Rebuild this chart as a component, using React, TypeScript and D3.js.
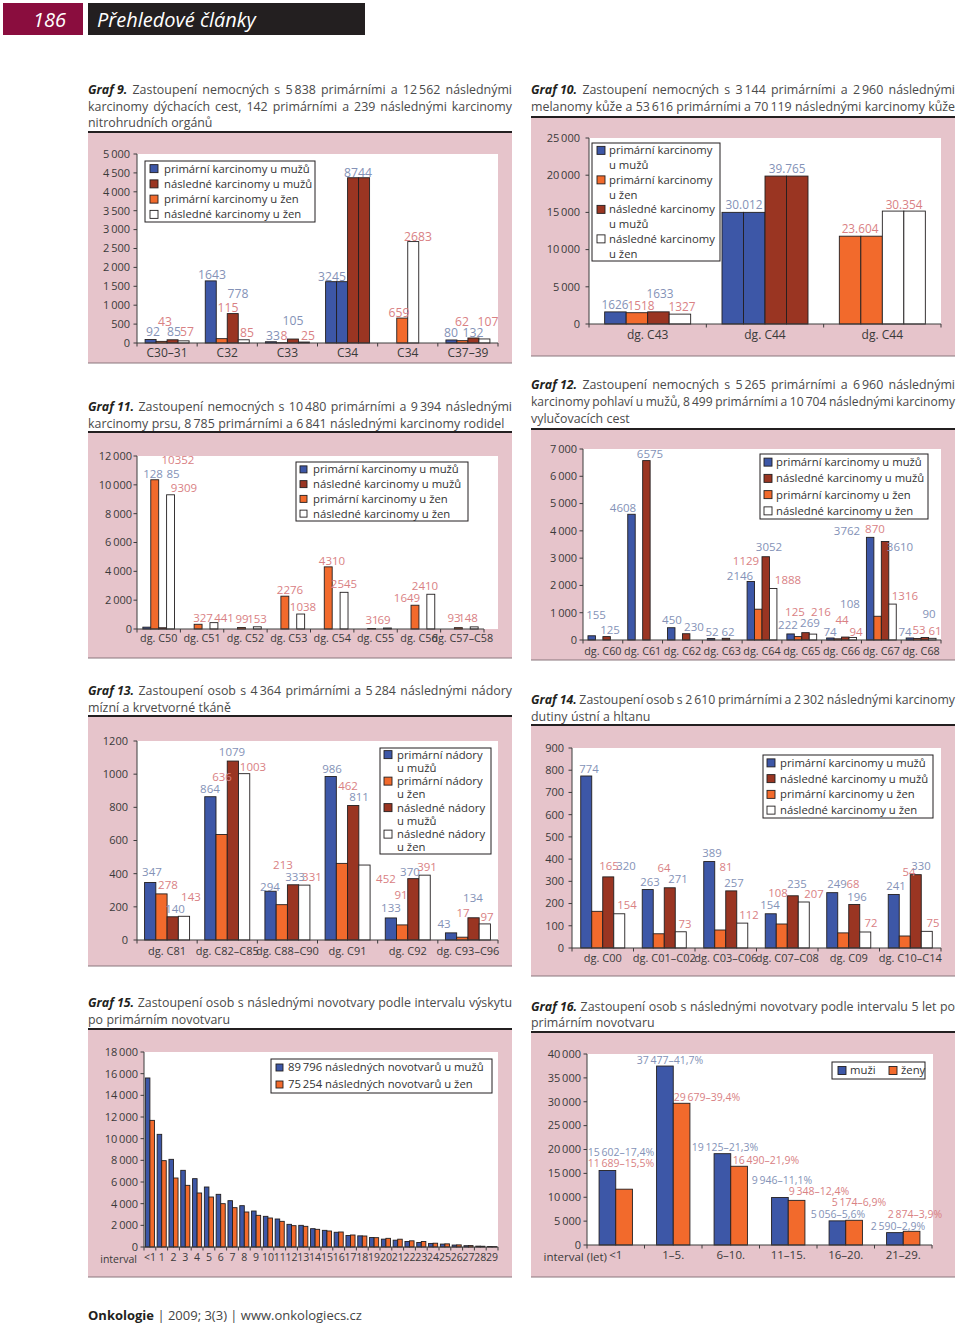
import React from "react";
import * as d3 from "d3";

const FONT = "'Open Sans', 'Noto Sans', sans-serif";
const FILL: Record<string, string> = { b: "#3d57a7", r: "#9a3522", o: "#f26a2c", w: "#ffffff" };
const LCOL: Record<string, string> = { s: "#8492b7", p: "#d98184" };
const PINK = "#e6c4cb";
const INK = "#231f20";
const TXT = "#3a3a3a";
const T = "\u2009";

type Lbl = [string, number, number, string];
type CapLine = { lead?: string; text: string; justify: boolean };

// ---------------- Graf 9 ----------------
const g9Caption: CapLine[] = [
  { lead: "Graf 9.", text: `Zastoupení nemocných s 5${T}838 primárními a 12${T}562 následnými`, justify: true },
  { text: "karcinomy dýchacích cest, 142 primárními a 239 následnými karcinomy", justify: true },
  { text: "nitrohrudních orgánů", justify: false },
];
const g9Cats = ["C30–31", "C32", "C33", "C34", "C34", "C37–39"];
const g9Values = [
  [92, 43, 85, 57],
  [1643, 115, 778, 85],
  [33, 8, 105, 25],
  [1622.5, 1622.5, 4372, 4372],
  [0, 659, 2683, 0],
  [80, 62, 132, 107],
];
const g9Fills = ["borw", "borw", "borw", "bbrr", "bow-", "borw"];
const g9Ticks = [0, 500, 1000, 1500, 2000, 2500, 3000, 3500, 4000, 4500, 5000];
const g9Labels: Lbl[] = [
  ["92", 0.266, 291, "s"], ["43", 0.465, 556, "p"], ["85", 0.615, 291, "s"], ["57", 0.831, 291, "p"],
  ["1643", 1.246, 1799, "s"], ["115", 1.512, 920, "p"], ["778", 1.679, 1300, "s"], ["85", 1.828, 265, "p"],
  ["33", 2.26, 200, "s"], ["8", 2.443, 200, "p"], ["105", 2.593, 580, "s"], ["25", 2.842, 200, "p"],
  ["3245", 3.241, 1746, "s"], ["8744", 3.673, 4498, "s"],
  ["659", 4.354, 794, "p"], ["2683", 4.67, 2805, "p"],
  ["80", 5.219, 265, "s"], ["62", 5.401, 556, "p"], ["132", 5.584, 265, "s"], ["107", 5.833, 556, "p"],
];
const g9Legend: [string, string][] = [
  ["b", "primární karcinomy u mužů"],
  ["r", "následné karcinomy u mužů"],
  ["o", "primární karcinomy u žen"],
  ["w", "následné karcinomy u žen"],
];

// ---------------- Graf 10 ----------------
const g10Caption: CapLine[] = [
  { lead: "Graf 10.", text: `Zastoupení nemocných s 3${T}144 primárními a 2${T}960 následnými`, justify: true },
  { text: `melanomy kůže a 53${T}616 primárními a 70${T}119 následnými karcinomy kůže`, justify: true },
];
const g10Cats = ["dg. C43", "dg. C44", "dg. C44"];
const g10Values = [
  [1626, 1518, 1633, 1327],
  [15006, 15006, 19882.5, 19882.5],
  [11802, 11802, 15177, 15177],
];
const g10Fills = ["borw", "bbrr", "ooww"];
const g10Ticks = [0, 5000, 10000, 15000, 20000, 25000];
const g10Labels: Lbl[] = [
  ["1626", 0.222, 2554, "s"], ["1518", 0.443, 2419, "p"], ["1633", 0.605, 4032, "s"], ["1327", 0.793, 2285, "p"],
  ["30.012", 1.321, 15994, "s"], ["39.765", 1.688, 20832, "s"], ["23.604", 2.31, 12768, "p"], ["30.354", 2.685, 15994, "p"],
];
const g10Legend: [string, string][] = [
  ["b", "primární karcinomy"], ["", "u mužů"],
  ["o", "primární karcinomy"], ["", "u žen"],
  ["r", "následné karcinomy"], ["", "u mužů"],
  ["w", "následné karcinomy"], ["", "u žen"],
];

// ---------------- Graf 11 ----------------
const g11Caption: CapLine[] = [
  { lead: "Graf 11.", text: `Zastoupení nemocných s 10${T}480 primárními a 9${T}394 následnými`, justify: true },
  { text: `karcinomy prsu, 8${T}785 primárními a 6${T}841 následnými karcinomy rodidel`, justify: false },
];
const g11Cats = ["dg. C50", "dg. C51", "dg. C52", "dg. C53", "dg. C54", "dg. C55", "dg. C56", "dg. C57–C58"];
const g11PrimM = [128, 0, 0, 0, 0, 0, 0, 0];
const g11PrimW = [10352, 327, 99, 2276, 4310, 31, 1649, 93];
const g11SecM = [85, 0, 0, 0, 0, 0, 0, 0];
const g11SecW = [9309, 441, 153, 1038, 2545, 69, 2410, 148];
const g11Ticks = [0, 2000, 4000, 6000, 8000, 10000, 12000];
const g11Labels: Lbl[] = [
  ["10352", 0.945, 11750, "p"], ["128", 0.369, 10750, "s"], ["85", 0.83, 10750, "s"], ["9309", 1.084, 9780, "p"],
  ["327", 1.522, 763, "p"], ["441", 2.006, 763, "p"], ["99", 2.421, 694, "p"], ["153", 2.767, 694, "p"],
  ["2276", 3.527, 2705, "p"], ["1038", 3.827, 1526, "p"], ["4310", 4.496, 4716, "p"], ["2545", 4.772, 3121, "p"],
  ["31", 5.418, 624, "p"], ["69", 5.695, 624, "p"], ["1649", 6.225, 2150, "p"], ["2410", 6.64, 2982, "p"],
  ["93", 7.308, 763, "p"], ["148", 7.631, 763, "p"],
];
const g11Legend: [string, string][] = [
  ["b", "primární karcinomy u mužů"],
  ["r", "následné karcinomy u mužů"],
  ["o", "primární karcinomy u žen"],
  ["w", "následné karcinomy u žen"],
];

// ---------------- Graf 12 ----------------
const g12Caption: CapLine[] = [
  { lead: "Graf 12.", text: `Zastoupení nemocných s 5${T}265 primárními a 6${T}960 následnými`, justify: true },
  { text: `karcinomy pohlaví u mužů, 8${T}499 primárními a 10${T}704 následnými karcinomy`, justify: true },
  { text: "vylučovacích cest", justify: false },
];
const g12Cats = ["dg. C60", "dg. C61", "dg. C62", "dg. C63", "dg. C64", "dg. C65", "dg. C66", "dg. C67", "dg. C68"];
const g12PrimM = [155, 4608, 450, 52, 2146, 222, 74, 3762, 74];
const g12PrimW = [0, 0, 0, 0, 1129, 125, 44, 870, 53];
const g12SecM = [125, 6575, 230, 62, 3052, 269, 108, 3610, 90];
const g12SecW = [0, 0, 0, 0, 1888, 216, 94, 1316, 61];
const g12Ticks = [0, 1000, 2000, 3000, 4000, 5000, 6000, 7000];
const g12Labels: Lbl[] = [
  ["155", 0.327, 916, "s"], ["125", 0.679, 367, "s"], ["4608", 1.006, 4838, "s"], ["6575", 1.684, 6817, "s"],
  ["450", 2.237, 733, "s"], ["230", 2.79, 476, "s"], ["52", 3.243, 293, "s"], ["62", 3.645, 293, "s"],
  ["2146", 3.947, 2346, "s"], ["1129", 4.098, 2895, "p"], ["3052", 4.676, 3408, "s"], ["1888", 5.153, 2199, "p"],
  ["222", 5.153, 550, "s"], ["125", 5.329, 1026, "p"], ["269", 5.706, 623, "s"], ["216", 5.983, 1026, "p"],
  ["74", 6.209, 293, "s"], ["44", 6.511, 733, "p"], ["108", 6.712, 1319, "s"], ["94", 6.863, 293, "p"],
  ["3762", 6.637, 3995, "s"], ["870", 7.34, 4068, "p"], ["3610", 7.969, 3408, "s"], ["1316", 8.094, 1613, "p"],
  ["74", 8.094, 293, "s"], ["53", 8.446, 367, "p"], ["90", 8.698, 953, "s"], ["61", 8.849, 330, "p"],
];
const g12Legend: [string, string][] = [
  ["b", "primární karcinomy u mužů"],
  ["r", "následné karcinomy u mužů"],
  ["o", "primární karcinomy u žen"],
  ["w", "následné karcinomy u žen"],
];

// ---------------- Graf 13 ----------------
const g13Caption: CapLine[] = [
  { lead: "Graf 13.", text: `Zastoupení osob s 4${T}364 primárními a 5${T}284 následnými nádory`, justify: true },
  { text: "mízní a krvetvorné tkáně", justify: false },
];
const g13Cats = ["dg. C81", "dg. C82–C85", "dg. C88–C90", "dg. C91", "dg. C92", "dg. C93–C96"];
const g13PrimM = [347, 864, 294, 986, 133, 43];
const g13PrimW = [278, 636, 213, 462, 91, 17];
const g13SecM = [140, 1079, 333, 811, 370, 134];
const g13SecW = [143, 1003, 331, 452, 391, 97];
const g13Ticks = [0, 200, 400, 600, 800, 1000, 1200];
const g13Labels: Lbl[] = [
  ["347", 0.249, 410, "s"], ["278", 0.515, 332, "p"], ["140", 0.632, 187, "s"], ["143", 0.897, 259, "p"],
  ["864", 1.213, 911, "s"], ["636", 1.413, 983, "p"], ["1079", 1.579, 1134, "s"], ["1003", 1.928, 1043, "p"],
  ["294", 2.21, 320, "s"], ["213", 2.426, 452, "p"], ["333", 2.626, 380, "s"], ["331", 2.908, 380, "p"],
  ["986", 3.241, 1031, "s"], ["462", 3.507, 929, "p"], ["811", 3.69, 862, "s"], ["452", 4.138, 368, "p"],
  ["133", 4.221, 193, "s"], ["91", 4.388, 271, "p"], ["370", 4.537, 410, "s"], ["391", 4.82, 440, "p"],
  ["43", 5.102, 96, "s"], ["17", 5.418, 163, "p"], ["134", 5.584, 253, "s"], ["97", 5.817, 139, "p"],
];
const g13Legend: [string, string][] = [
  ["b", "primární nádory"], ["", "u mužů"],
  ["o", "primární nádory"], ["", "u žen"],
  ["r", "následné nádory"], ["", "u mužů"],
  ["w", "následné nádory"], ["", "u žen"],
];

// ---------------- Graf 14 ----------------
const g14Caption: CapLine[] = [
  { lead: "Graf 14.", text: `Zastoupení osob s 2${T}610 primárními a 2${T}302 následnými karcinomy`, justify: true },
  { text: "dutiny ústní a hltanu", justify: false },
];
const g14Cats = ["dg. C00", "dg. C01–C02", "dg. C03–C06", "dg. C07–C08", "dg. C09", "dg. C10–C14"];
const g14PrimM = [774, 263, 389, 154, 249, 241];
const g14PrimW = [165, 64, 81, 108, 68, 54];
const g14SecM = [320, 271, 257, 235, 196, 330];
const g14SecW = [154, 73, 112, 207, 72, 75];
const g14Ticks = [0, 100, 200, 300, 400, 500, 600, 700, 800, 900];
const g14Labels: Lbl[] = [
  ["774", 0.276, 806, "s"], ["165", 0.602, 369, "p"], ["320", 0.878, 369, "s"], ["154", 0.894, 194, "p"],
  ["263", 1.268, 297, "s"], ["64", 1.496, 360, "p"], ["271", 1.724, 311, "s"], ["73", 1.837, 108, "p"],
  ["389", 2.276, 428, "s"], ["81", 2.504, 365, "p"], ["257", 2.634, 293, "s"], ["112", 2.878, 149, "p"],
  ["154", 3.22, 194, "s"], ["108", 3.35, 248, "p"], ["235", 3.659, 288, "s"], ["207", 3.935, 243, "p"],
  ["249", 4.309, 288, "s"], ["68", 4.569, 288, "p"], ["196", 4.634, 230, "s"], ["72", 4.862, 113, "p"],
  ["241", 5.268, 279, "s"], ["54", 5.48, 342, "p"], ["330", 5.675, 369, "s"], ["75", 5.87, 113, "p"],
];
const g14Legend: [string, string][] = [
  ["b", "primární karcinomy u mužů"],
  ["r", "následné karcinomy u mužů"],
  ["o", "primární karcinomy u žen"],
  ["w", "následné karcinomy u žen"],
];

// ---------------- Graf 15 ----------------
const g15Caption: CapLine[] = [
  { lead: "Graf 15.", text: "Zastoupení osob s následnými novotvary podle intervalu výskytu", justify: true },
  { text: "po primárním novotvaru", justify: false },
];
const g15Cats = ["<1", "1", "2", "3", "4", "5", "6", "7", "8", "9", "10", "11", "12", "13", "14", "15", "16", "17", "18", "19", "20", "21", "22", "23", "24", "25", "26", "27", "28", "29"];
const g15Men = [15602, 10400, 8092, 7077, 6308, 5538, 4862, 4277, 3815, 3323, 2831, 2585, 2092, 2000, 1692, 1538, 1360, 1060, 1030, 880, 726, 630, 510, 420, 330, 270, 180, 120, 80, 50];
const g15Women = [11689, 7970, 6369, 5692, 4985, 4615, 4000, 3631, 3231, 2923, 2677, 2369, 1969, 1908, 1631, 1477, 1385, 1108, 1015, 861, 800, 720, 570, 510, 350, 290, 195, 130, 70, 39];
const g15Ticks = [0, 2000, 4000, 6000, 8000, 10000, 12000, 14000, 16000, 18000];
const g15Legend: [string, string][] = [
  ["b", `89${T}796 následných novotvarů u mužů`],
  ["o", `75${T}254 následných novotvarů u žen`],
];

// ---------------- Graf 16 ----------------
const g16Caption: CapLine[] = [
  { lead: "Graf 16.", text: "Zastoupení osob s následnými novotvary podle intervalu 5 let po", justify: true },
  { text: "primárním novotvaru", justify: false },
];
const g16Cats = ["<1", "1–5.", "6–10.", "11–15.", "16–20.", "21–29."];
const g16Men = [15602, 37477, 19125, 9946, 5056, 2590];
const g16Women = [11689, 29679, 16490, 9348, 5174, 2874];
const g16Ticks = [0, 5000, 10000, 15000, 20000, 25000, 30000, 35000, 40000];
const g16Labels: Lbl[] = [
  [`15${T}602–17,4%`, 0.591, 19476, "s"], [`11${T}689–15,5%`, 0.591, 17173, "p"],
  [`37${T}477–41,7%`, 1.443, 38743, "s"], [`29${T}679–39,4%`, 2.087, 30995, "p"],
  [`19${T}125–21,3%`, 2.4, 20524, "s"], [`16${T}490–21,9%`, 3.113, 17801, "p"],
  [`9${T}946–11,1%`, 3.391, 13612, "s"], [`9${T}348–12,4%`, 4.035, 11309, "p"],
  [`5${T}174–6,9%`, 4.73, 9005, "p"], [`5${T}056–5,6%`, 4.365, 6492, "s"],
  [`2${T}874–3,9%`, 5.704, 6492, "p"], [`2${T}590–2,9%`, 5.409, 3979, "s"],
];
const g16Legend: [string, string][] = [["b", "muži"], ["o", "ženy"]];

// ---------------- helpers ----------------
const zip4 = (a: number[], b: number[], c: number[], d: number[]) => a.map((v, i) => [v, b[i], c[i], d[i]]);
const zip2 = (a: number[], b: number[]) => a.map((v, i) => [v, b[i]]);

let measureCtx: CanvasRenderingContext2D | null = null;
function textW(s: string, font: string) {
  if (!measureCtx) {
    try { measureCtx = document.createElement("canvas").getContext("2d"); } catch (e) { measureCtx = null; }
  }
  if (!measureCtx) return s.length * 6;
  measureCtx.font = font;
  return measureCtx.measureText(s).width;
}

function Caption({ x, w, ys, lines, size }: { x: number; w: number; ys: number[]; lines: CapLine[]; size: number }) {
  const out: React.ReactNode[] = [];
  lines.forEach((ln, li) => {
    const words: { t: string; b: boolean }[] = [];
    if (ln.lead) words.push({ t: ln.lead, b: true });
    ln.text.split(" ").forEach((t) => words.push({ t, b: false }));
    const fonts = (fs: number) => [`${fs}px "Open Sans"`, `italic 700 ${fs}px "Open Sans"`];
    let fs = size;
    let [reg, bold] = fonts(fs);
    let widths = words.map((wd) => textW(wd.t, wd.b ? bold : reg));
    let spaceW = textW(" ", reg);
    const natural = d3.sum(widths) + spaceW * 0.8 * (words.length - 1);
    if (natural > w) {
      fs = (size * w) / natural;
      [reg, bold] = fonts(fs);
      widths = words.map((wd) => textW(wd.t, wd.b ? bold : reg));
      spaceW = textW(" ", reg);
    }
    const total = d3.sum(widths);
    const sp = ln.justify ? (w - total) / (words.length - 1) : spaceW * 1.05;
    let cx = x;
    words.forEach((wd, i) => {
      out.push(
        <text key={`${li}-${i}`} x={cx} y={ys[li]} fontSize={fs} fontFamily={FONT}
          fontStyle={wd.b ? "italic" : "normal"} fontWeight={wd.b ? 700 : 400} fill={wd.b ? INK : "#4a4a4a"}>
          {wd.t}
        </text>
      );
      cx += widths[i] + sp;
    });
  });
  return <g>{out}</g>;
}

type Legend = {
  x: number; y: number; w: number; h: number; rows: [string, string][];
  mx: number; tx: number; ms: number; size: number; horiz?: number[];
};
type Spec = {
  panel: [number, number, number, number];
  x0: number; x1: number; y0: number; y1: number; wl?: number; wr?: number;
  max: number; ticks: number[]; sep: boolean; tickGap: number;
  cats: string[]; values: number[][]; fills: string[]; frac: number;
  labels: Lbl[]; legend: Legend;
  caption: CapLine[]; capY: number[];
  tickSize: number; catSize: number; labelSize: number; catDy: number;
  extra?: { text: string; x: number };
};

const fmtTick = (n: number, sep: boolean) => (sep && n >= 1000 ? d3.format(",")(n).replace(/,/g, T) : String(n));

function Chart({ s }: { s: Spec }) {
  const [px, py, pw, ph] = s.panel;
  const x = d3.scaleBand<number>().domain(d3.range(s.cats.length)).range([s.x0, s.x1]);
  const y = d3.scaleLinear().domain([0, s.max]).range([s.y0, s.y1]);
  const ux = d3.scaleLinear().domain([0, s.cats.length]).range([s.x0, s.x1]);
  const bw = x.bandwidth();
  const nSlots = s.values[0].length;
  const gw = bw * s.frac;
  const sw = gw / nSlots;
  const wl = s.wl ?? s.x0;
  const wr = s.wr ?? s.x1;
  const lg = s.legend;
  const rowH = lg.h / (lg.horiz ? 1 : lg.rows.length);
  return (
    <g>
      <rect x={px} y={py} width={pw} height={ph} fill={PINK} />
      <line x1={px} x2={px + pw} y1={py} y2={py} stroke={INK} strokeWidth={2.2} />
      <line x1={px} x2={px + pw} y1={py + ph} y2={py + ph} stroke="#8a767c" strokeWidth={1} />
      <Caption x={px} w={pw} ys={s.capY} lines={s.caption} size={12.4} />
      <rect x={wl} y={s.y1} width={wr - wl} height={s.y0 - s.y1} fill="#ffffff" />
      {s.values.map((row, i) =>
        row.map((v, j) => {
          const f = s.fills[i][j];
          if (!v || f === "-") return null;
          const bx = (x(i) as number) + (bw - gw) / 2 + j * sw;
          return (
            <rect key={`${i}-${j}`} x={bx} y={y(v)} width={sw} height={s.y0 - y(v)}
              fill={FILL[f]} stroke={INK} strokeWidth={0.9} />
          );
        })
      )}
      <line x1={wl} x2={wl} y1={s.y1} y2={s.y0} stroke="#3c3c3c" strokeWidth={1} />
      {s.ticks.map((t) => (
        <g key={t}>
          <line x1={wl - 3.5} x2={wl} y1={y(t)} y2={y(t)} stroke="#3c3c3c" strokeWidth={1} />
          <text x={wl - s.tickGap} y={y(t)} dy="0.35em" textAnchor="end" fontSize={s.tickSize}
            fontFamily={FONT} fill={TXT}>{fmtTick(t, s.sep)}</text>
        </g>
      ))}
      <line x1={wl} x2={s.x1} y1={s.y0} y2={s.y0} stroke="#3c3c3c" strokeWidth={1} />
      {d3.range(s.cats.length + 1).map((i) => (
        <line key={i} x1={ux(i)} x2={ux(i)} y1={s.y0} y2={s.y0 + 3.5} stroke="#3c3c3c" strokeWidth={1} />
      ))}
      {s.cats.map((c, i) => (
        <text key={i} x={(x(i) as number) + bw / 2} y={s.y0 + s.catDy} dy="0.35em" textAnchor="middle"
          fontSize={s.catSize} fontFamily={FONT} fill={TXT}>{c}</text>
      ))}
      {s.extra && (
        <text x={s.extra.x} y={s.y0 + s.catDy + 2} dy="0.35em" textAnchor="end" fontSize={s.catSize}
          fontFamily={FONT} fill={TXT}>{s.extra.text}</text>
      )}
      {s.labels.map(([t, u, v, c], i) => (
        <text key={i} x={ux(u)} y={y(v)} dy="0.35em" textAnchor="middle" fontSize={s.labelSize}
          fontFamily={FONT} fill={LCOL[c]}>{t}</text>
      ))}
      <rect x={lg.x} y={lg.y} width={lg.w} height={lg.h} fill="#ffffff" stroke={INK} strokeWidth={1} />
      {lg.rows.map(([code, label], k) => {
        const cy = lg.horiz ? lg.y + lg.h / 2 : lg.y + (k + 0.5) * rowH;
        const mx = lg.horiz ? lg.horiz[k] : lg.mx;
        const tx = lg.horiz ? lg.horiz[k] + (lg.tx - lg.mx) : lg.tx;
        return (
          <g key={k}>
            {code && (
              <rect x={mx} y={cy - lg.ms / 2} width={lg.ms} height={lg.ms} fill={FILL[code]} stroke={INK} strokeWidth={0.9} />
            )}
            <text x={tx} y={cy} dy="0.35em" fontSize={lg.size} fontFamily={FONT} fill="#333">{label}</text>
          </g>
        );
      })}
    </g>
  );
}

const LEFT = 88;
const RIGHT = 531;
const PW = 424;

const specs: Spec[] = [
  {
    panel: [LEFT, 132, PW, 231], x0: 137, x1: 498, y0: 343, y1: 154,
    max: 5000, ticks: g9Ticks, sep: true, tickGap: 7,
    cats: g9Cats, values: g9Values, fills: g9Fills, frac: 0.731, labels: g9Labels,
    legend: { x: 145, y: 161, w: 170, h: 61, rows: g9Legend, mx: 150, tx: 164, ms: 8, size: 11.3 },
    caption: g9Caption, capY: [94, 111, 127],
    tickSize: 11, catSize: 12, labelSize: 12.2, catDy: 10,
  },
  {
    panel: [RIGHT, 117, PW, 239], x0: 589, x1: 941, y0: 324, y1: 138,
    max: 25000, ticks: g10Ticks, sep: true, tickGap: 9,
    cats: g10Cats, values: g10Values, fills: g10Fills, frac: 0.733, labels: g10Labels,
    legend: { x: 592, y: 143, w: 128, h: 118, rows: g10Legend, mx: 597, tx: 609, ms: 8, size: 11.3 },
    caption: g10Caption, capY: [94, 111],
    tickSize: 11, catSize: 12, labelSize: 11.8, catDy: 11,
  },
  {
    panel: [LEFT, 432, PW, 226], x0: 137, x1: 484, y0: 629, y1: 456, wr: 498,
    max: 12000, ticks: g11Ticks, sep: true, tickGap: 5,
    cats: g11Cats, values: zip4(g11PrimM, g11PrimW, g11SecM, g11SecW), fills: g11Cats.map(() => "borw"), frac: 0.73,
    labels: g11Labels,
    legend: { x: 296, y: 462, w: 172, h: 59, rows: g11Legend, mx: 300, tx: 313, ms: 7, size: 11.3 },
    caption: g11Caption, capY: [411, 428],
    tickSize: 11, catSize: 10.8, labelSize: 11.5, catDy: 9,
  },
  {
    panel: [RIGHT, 429, PW, 231], x0: 583, x1: 941, y0: 640, y1: 449,
    max: 7000, ticks: g12Ticks, sep: true, tickGap: 6,
    cats: g12Cats, values: zip4(g12PrimM, g12PrimW, g12SecM, g12SecW), fills: g12Cats.map(() => "borw"), frac: 0.75,
    labels: g12Labels,
    legend: { x: 760, y: 454, w: 168, h: 65, rows: g12Legend, mx: 764, tx: 776, ms: 8, size: 11.3 },
    caption: g12Caption, capY: [389, 406, 423],
    tickSize: 11, catSize: 10.8, labelSize: 11.5, catDy: 11,
  },
  {
    panel: [LEFT, 716, PW, 250], x0: 137, x1: 498, y0: 940, y1: 741,
    max: 1200, ticks: g13Ticks, sep: false, tickGap: 9,
    cats: g13Cats, values: zip4(g13PrimM, g13PrimW, g13SecM, g13SecW), fills: g13Cats.map(() => "borw"), frac: 0.748,
    labels: g13Labels,
    legend: { x: 380, y: 748, w: 111, h: 106, rows: g13Legend, mx: 384, tx: 397, ms: 8, size: 11.3 },
    caption: g13Caption, capY: [695, 712],
    tickSize: 11, catSize: 11, labelSize: 11.5, catDy: 11,
  },
  {
    panel: [RIGHT, 725, PW, 251], x0: 572, x1: 941, y0: 948, y1: 748,
    max: 900, ticks: g14Ticks, sep: false, tickGap: 8,
    cats: g14Cats, values: zip4(g14PrimM, g14PrimW, g14SecM, g14SecW), fills: g14Cats.map(() => "borw"), frac: 0.716,
    labels: g14Labels,
    legend: { x: 763, y: 755, w: 170, h: 63, rows: g14Legend, mx: 767, tx: 780, ms: 8, size: 11.3 },
    caption: g14Caption, capY: [704, 721],
    tickSize: 11, catSize: 11, labelSize: 11.3, catDy: 10,
  },
  {
    panel: [LEFT, 1029, PW, 248], x0: 144, x1: 498, y0: 1247, y1: 1052,
    max: 18000, ticks: g15Ticks, sep: true, tickGap: 6,
    cats: g15Cats, values: zip2(g15Men, g15Women), fills: g15Cats.map(() => "bo"), frac: 0.77,
    labels: [],
    legend: { x: 271, y: 1059, w: 221, h: 34, rows: g15Legend, mx: 276, tx: 288, ms: 7, size: 11.3 },
    caption: g15Caption, capY: [1007, 1024],
    tickSize: 11, catSize: 10.5, labelSize: 11, catDy: 10,
    extra: { text: "interval", x: 137 },
  },
  {
    panel: [RIGHT, 1032, PW, 245], x0: 587, x1: 932, y0: 1245, y1: 1054, wr: 933,
    max: 40000, ticks: g16Ticks, sep: true, tickGap: 6,
    cats: g16Cats, values: zip2(g16Men, g16Women), fills: g16Cats.map(() => "bo"), frac: 0.58,
    labels: g16Labels,
    legend: { x: 832, y: 1062, w: 93, h: 17, rows: g16Legend, mx: 838, tx: 850, ms: 8, size: 11.3, horiz: [838, 889] },
    caption: g16Caption, capY: [1011, 1027],
    tickSize: 11, catSize: 11.5, labelSize: 10.5, catDy: 10,
    extra: { text: "interval (let)", x: 607 },
  },
];

export default function App() {
  return (
    <svg width={960} height={1325} viewBox="0 0 960 1325"
      style={{ position: "absolute", left: 0, top: 0, background: "#ffffff" }}>
      <rect x={0} y={0} width={960} height={1325} fill="#ffffff" />
      <rect x={3} y={3} width={80} height={32} fill="#8a0d3e" />
      <text x={66} y={27} textAnchor="end" fontSize={20} fontStyle="italic" fontFamily={FONT} fill="#ffffff">186</text>
      <rect x={88} y={3} width={277} height={32} fill={INK} />
      <text x={97} y={27} fontSize={20} fontStyle="italic" fontFamily={FONT} fill="#ffffff">Přehledové články</text>
      {specs.map((s, i) => (
        <Chart key={i} s={s} />
      ))}
      <text x={88} y={1320} fontSize={13} fontFamily={FONT} fill={INK}>
        <tspan fontWeight={700}>Onkologie</tspan>
        <tspan fill="#444">{"  |  2009; 3(3)  |  www.onkologiecs.cz"}</tspan>
      </text>
    </svg>
  );
}
